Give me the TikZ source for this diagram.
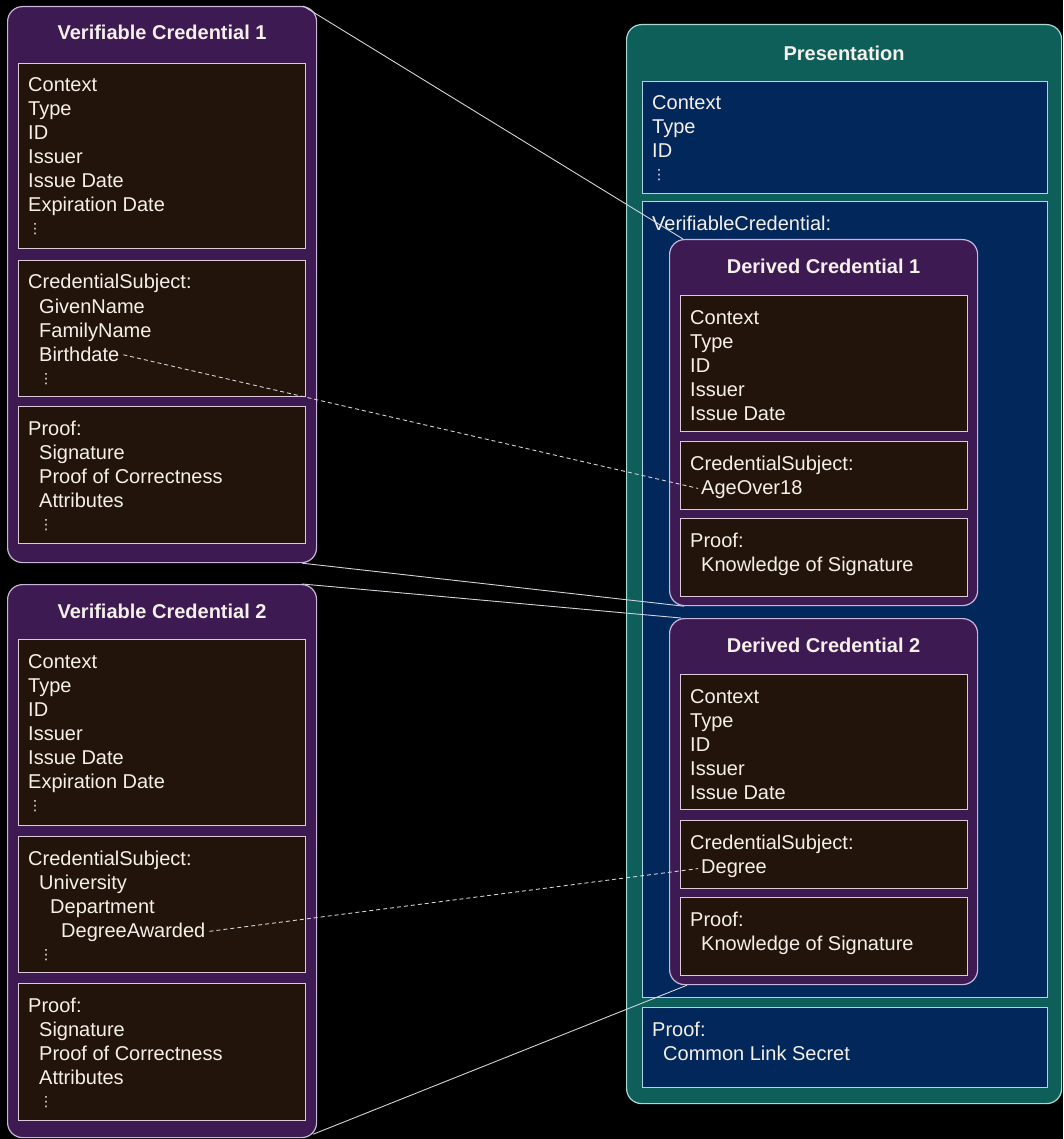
\documentclass[tikz,border=0pt]{standalone}
\usepackage{fontspec}
\setmainfont{Liberation Sans}
\newfontfamily\symfont{DejaVu Sans}
\usetikzlibrary{positioning}

\definecolor{vcpurple}{HTML}{3D1A52}
\definecolor{vcedge}{HTML}{C9B6DA}
\definecolor{fieldfill}{HTML}{22140A}
\definecolor{fieldedge}{HTML}{DCCBD6}
\definecolor{presteal}{HTML}{0E5E5A}
\definecolor{presedge}{HTML}{A6DAD2}
\definecolor{presblue}{HTML}{02275A}
\definecolor{blueedge}{HTML}{A9D6E2}
\definecolor{linkgray}{HTML}{D2D4DC}
\definecolor{txt}{HTML}{F5F0EA}

\newcommand\vdts{\raisebox{2pt}{\symfont\fontsize{14}{14}\selectfont\symbol{"22EE}}}

\begin{document}
\begin{tikzpicture}[x=1pt, y=-1pt,
  card/.style={draw=vcedge, fill=vcpurple, line width=1.2pt, rounded corners=15pt,
    anchor=north west, inner sep=0pt, minimum width=309pt},
  prescard/.style={card, draw=presedge, fill=presteal},
  field/.style={draw=fieldedge, fill=fieldfill, line width=1.2pt, anchor=north west,
    inner sep=0pt, minimum width=287pt},
  presfield/.style={field, draw=blueedge, fill=presblue, minimum width=405pt},
  entry/.style={anchor=base west, inner sep=0pt, text=txt, font=\fontsize{20}{24}\selectfont},
  heading/.style={anchor=base, inner sep=0pt, text=txt, font=\fontsize{20}{24}\selectfont\bfseries},
  link/.style={draw=linkgray, line width=0.9pt},
  dotted link/.style={link, dash pattern=on 4pt off 3pt, shorten <=4pt, shorten >=3pt}]

\fill[black] (0,0) rectangle (1063,1139);

% presentation
\node[prescard, minimum width=435pt, minimum height=1079pt] (pres) at (626,24) {};
\node[heading] (pres-title) at ([yshift=-37pt]pres.north) {Presentation};

\foreach \n/\t/\h in {presa/81/112, presb/201/796, presc/1007/80}
  \node[presfield, minimum height=\h] (\n) at (642,\t) {};

\foreach \t [count=\i] in {Context, Type, ID, \vdts}
  \node[entry] (presa-\i) at (652,86+24*\i) {\t};

\node[entry] (presb-1) at (652,231) {VerifiableCredential:};

\foreach \l/\t [count=\i] in {0/Proof:, 1/Common Link Secret}
  \node[entry] (presc-\i) at (652+11*\l,1012+24*\i) {\t};

% derived credentials
\node[card, minimum width=308pt, minimum height=366pt] (dc1) at (669,239) {};
\node[card, minimum width=308pt, minimum height=366pt] (dc2) at (669,618) {};
\node[heading] (dc1-title) at ([yshift=-34pt]dc1.north) {Derived Credential 1};
\node[heading] (dc2-title) at ([yshift=-34pt]dc2.north) {Derived Credential 2};

\foreach \n/\t/\h in {dc1a/295/136, dc1b/441/68, dc1c/518/78,
                      dc2a/674/135, dc2b/820/68, dc2c/897/78}
  \node[field, minimum height=\h] (\n) at (680,\t) {};

\foreach \t [count=\i] in {Context, Type, ID, Issuer, Issue Date}
  \node[entry] (dc1a-\i) at (690,300+24*\i) {\t};
\foreach \l/\t [count=\i] in {0/CredentialSubject:, 1/AgeOver18}
  \node[entry] (dc1b-\i) at (690+11*\l,446+24*\i) {\t};
\foreach \l/\t [count=\i] in {0/Proof:, 1/Knowledge of Signature}
  \node[entry] (dc1c-\i) at (690+11*\l,523+24*\i) {\t};

\foreach \t [count=\i] in {Context, Type, ID, Issuer, Issue Date}
  \node[entry] (dc2a-\i) at (690,679+24*\i) {\t};
\foreach \l/\t [count=\i] in {0/CredentialSubject:, 1/Degree}
  \node[entry] (dc2b-\i) at (690+11*\l,825+24*\i) {\t};
\foreach \l/\t [count=\i] in {0/Proof:, 1/Knowledge of Signature}
  \node[entry] (dc2c-\i) at (690+11*\l,902+24*\i) {\t};

% verifiable credentials
\node[card, minimum height=556pt] (vc1) at (7,6) {};
\node[card, minimum height=553pt] (vc2) at (7,584) {};
\node[heading] (vc1-title) at ([yshift=-34pt]vc1.north) {Verifiable Credential 1};
\node[heading] (vc2-title) at ([yshift=-34pt]vc2.north) {Verifiable Credential 2};

\foreach \n/\t/\h in {vc1a/63/185, vc1b/260/136, vc1c/406/137,
                      vc2a/639/186, vc2b/836/136, vc2c/983/137}
  \node[field, minimum height=\h] (\n) at (18,\t) {};

\foreach \t [count=\i] in {Context, Type, ID, Issuer, Issue Date, Expiration Date, \vdts}
  \node[entry] (vc1a-\i) at (28,68+24*\i) {\t};
\foreach \l/\t [count=\i] in {0/CredentialSubject:, 1/GivenName, 1/FamilyName, 1/Birthdate, 1/\vdts}
  \node[entry] (vc1b-\i) at (28+11*\l,265+24*\i) {\t};
\foreach \l/\t [count=\i] in {0/Proof:, 1/Signature, 1/Proof of Correctness, 1/Attributes, 1/\vdts}
  \node[entry] (vc1c-\i) at (28+11*\l,411+24*\i) {\t};

\foreach \t [count=\i] in {Context, Type, ID, Issuer, Issue Date, Expiration Date, \vdts}
  \node[entry] (vc2a-\i) at (28,644+24*\i) {\t};
\foreach \l/\t [count=\i] in {0/CredentialSubject:, 1/University, 2/Department, 3/DegreeAwarded, 1/\vdts}
  \node[entry] (vc2b-\i) at (28+11*\l,841+24*\i) {\t};
\foreach \l/\t [count=\i] in {0/Proof:, 1/Signature, 1/Proof of Correctness, 1/Attributes, 1/\vdts}
  \node[entry] (vc2c-\i) at (28+11*\l,988+24*\i) {\t};

% links
\draw[link] ([xshift=-14pt]vc1.north east) -- ([xshift=14pt]dc1.north west);
\draw[link] ([xshift=-15pt]vc1.south east) -- ([xshift=15pt]dc1.south west);
\draw[link] ([xshift=-15pt]vc2.north east) -- ([xshift=12pt]dc2.north west);
\draw[link] ([shift={(-4pt,4pt)}]vc2.south east) -- ([xshift=18pt]dc2.south west);

\draw[dotted link] (vc1b-4.east) -- (dc1b-2.west);
\draw[dotted link] (vc2b-4.east) -- (dc2b-2.west);

\end{tikzpicture}
\end{document}
